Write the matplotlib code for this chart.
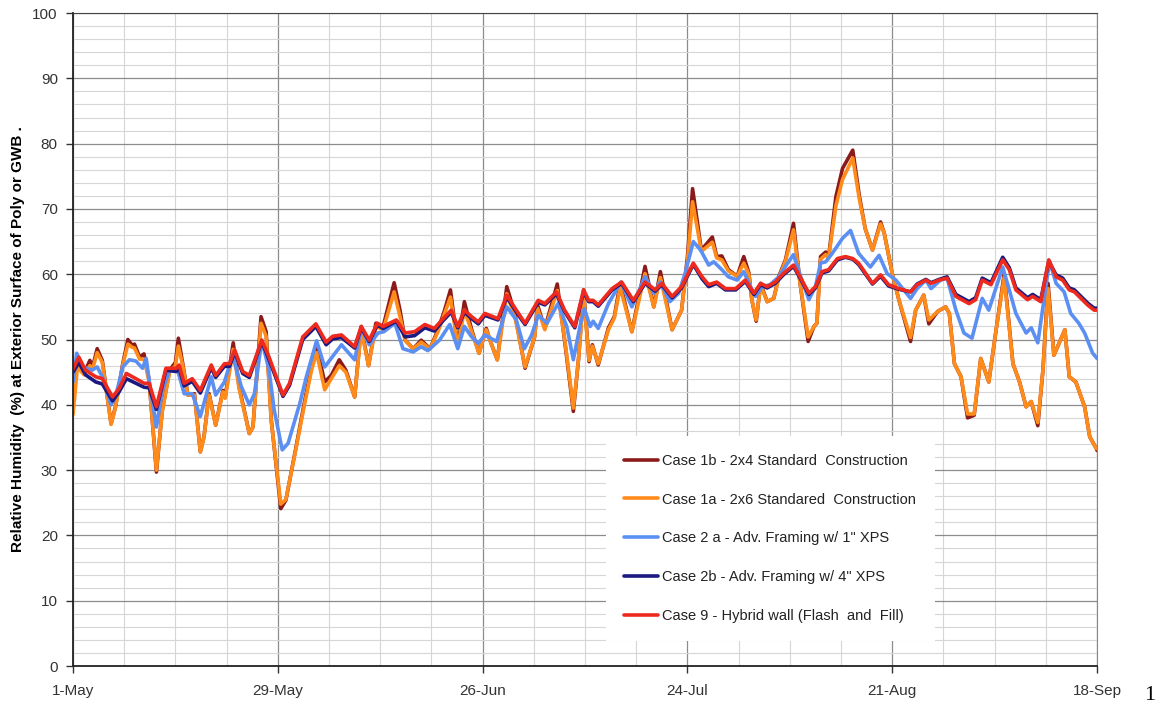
import datetime as dt
import numpy as np
import matplotlib
matplotlib.use('Agg')
import matplotlib.pyplot as plt

plt.rcParams['font.family'] = ['Liberation Sans', 'DejaVu Sans']

START = dt.date(2000, 5, 1)

# days after 1-May, shared by the two standard-construction cases
days_case1 = [0, 0.6, 1.5, 2.3, 2.7, 3.3, 4.0, 5.2, 5.8, 6.8, 7.5, 8.1, 8.4, 9.1, 9.7,
              10.4, 11.4, 12.2, 13.2, 14.0, 14.4, 15.0, 15.7, 16.6, 17.4, 17.9, 18.6,
              19.5, 20.5, 20.8, 21.9, 22.7, 24.1, 24.6, 25.7, 26.4, 27.1, 28.4, 29.1,
              30.5, 31.6, 32.6, 33.3, 34.4, 35.3, 36.4, 37.3, 38.5, 39.4, 40.4, 41.4,
              42.4, 43.9, 44.7, 45.4, 46.5, 47.6, 48.8, 49.9, 50.8, 51.6, 52.6, 53.5,
              54.5, 55.5, 56.5, 57.0, 58.0, 59.3, 60.4, 61.8, 63.1, 63.5, 64.5, 66.2,
              67.2, 68.4, 69.1, 69.8, 70.55, 71.0, 71.8, 73.2, 74.0, 74.8, 76.4, 78.2,
              79.4, 80.3, 81.9, 83.2, 84.0, 84.7, 85.9, 87.4, 88.0, 88.7, 89.6, 90.8,
              91.7, 92.4, 92.8, 93.4, 94.0, 94.9, 95.8, 96.5, 97.4, 98.5, 99.4, 100.5,
              101.3, 101.7, 102.2, 102.9, 103.3, 104.3, 105.2, 106.6, 107.5, 108.3,
              109.3, 110.4, 110.9, 112.0, 112.9, 114.5, 115.2, 116.3, 117.0, 118.2,
              119.3, 119.8, 120.5, 121.4, 122.3, 123.2, 124.1, 125.2, 126.2, 127.3,
              128.5, 129.4, 130.3, 131.0, 131.9, 132.6, 133.3, 134.1, 135.6, 136.2,
              137.1, 138.3, 139.0, 139.9, 140.0]
rh_case1b = [44.0, 45.8, 44.8, 46.8, 45.9, 48.6, 46.8, 37.1, 39.7, 46.3, 50.0, 49.1, 49.3,
             47.3, 47.8, 43.8, 29.7, 39.2, 45.3, 46.5, 50.2, 46.3, 41.5, 41.7, 32.8, 35.1,
             41.7, 36.9, 42.2, 41.2, 49.5, 42.8, 35.6, 36.6, 53.5, 51.2, 37.7, 24.1, 25.4,
             33.6, 40.2, 45.8, 48.9, 43.5, 44.5, 46.9, 45.3, 41.2, 52.0, 46.0, 52.5, 52.0,
             58.7, 54.5, 49.9, 48.6, 49.9, 48.6, 51.5, 54.5, 57.6, 48.9, 55.8, 51.5, 47.9,
             51.7, 49.9, 46.9, 58.1, 54.0, 45.6, 50.4, 55.3, 51.7, 58.5, 49.9, 39.0, 46.9,
             57.6, 46.6, 49.2, 46.1, 51.8, 53.5, 58.6, 51.2, 61.2, 55.0, 60.4, 51.5, 54.5,
             62.7, 73.1, 63.7, 65.7, 62.7, 62.8, 60.7, 59.7, 62.7, 60.2, 56.1, 52.8, 58.6,
             55.8, 56.3, 59.7, 62.2, 67.8, 58.6, 49.7, 52.0, 52.5, 62.7, 63.4, 62.7, 71.9,
             76.2, 79.0, 72.0, 67.0, 63.7, 68.0, 66.3, 60.1, 56.1, 49.7, 54.5, 56.8, 52.4,
             54.3, 55.0, 54.0, 46.3, 44.3, 38.0, 38.4, 47.1, 43.5, 51.5, 60.0, 46.3, 43.5,
             39.7, 40.5, 36.8, 45.3, 58.6, 47.6, 51.5, 44.3, 43.5, 39.7, 35.1, 33.3, 33.0]
rh_case1a = [38.5, 45.8, 44.6, 46.0, 45.6, 48.0, 46.5, 37.0, 39.6, 46.1, 49.3, 48.8, 48.7,
             47.0, 47.0, 43.6, 30.0, 39.0, 45.0, 46.0, 49.0, 46.0, 41.5, 41.5, 32.8, 35.0,
             41.5, 36.9, 42.0, 41.0, 48.5, 42.5, 35.6, 36.6, 52.5, 50.5, 37.5, 24.8, 25.5,
             33.4, 39.8, 45.3, 48.0, 42.3, 44.0, 46.0, 45.0, 41.2, 51.5, 46.0, 52.0, 51.5,
             57.3, 53.5, 49.9, 48.6, 49.6, 48.6, 51.2, 54.0, 56.5, 48.9, 54.5, 51.2, 47.9,
             51.5, 49.9, 46.9, 57.0, 53.5, 45.8, 50.4, 54.8, 51.5, 57.5, 50.2, 39.5, 46.9,
             56.8, 46.8, 49.0, 46.3, 51.5, 53.3, 58.0, 51.2, 60.1, 55.0, 59.5, 51.5, 54.5,
             62.0, 71.1, 63.5, 64.9, 62.5, 62.2, 60.5, 59.7, 61.7, 60.0, 56.1, 53.0, 58.3,
             55.8, 56.3, 59.5, 62.0, 66.8, 58.6, 50.4, 52.0, 52.5, 62.3, 63.0, 62.5, 70.5,
             74.5, 77.8, 71.5, 67.0, 63.7, 67.7, 66.3, 60.1, 56.1, 50.3, 54.5, 56.8, 53.0,
             54.3, 55.0, 54.0, 46.3, 44.3, 38.6, 38.6, 47.1, 43.5, 51.5, 59.5, 46.3, 43.5,
             39.7, 40.5, 37.3, 45.3, 57.8, 47.6, 51.5, 44.3, 43.5, 39.7, 35.1, 33.3, 33.3]

days_case2a = [0, 0.5, 1.3, 2.6, 3.3, 4.0, 5.2, 5.8, 6.8, 7.7, 8.6, 9.5, 10.0, 10.6, 11.4,
               12.2, 13.2, 14.3, 15.2, 16.3, 17.4, 18.9, 19.5, 20.7, 21.8, 23.0, 24.1,
               24.8, 25.8, 26.8, 27.5, 28.6, 29.4, 31.0, 31.9, 33.3, 34.4, 36.7, 38.5,
               39.4, 40.5, 41.7, 42.5, 44.0, 45.1, 46.5, 47.6, 48.5, 50.1, 51.5, 52.6,
               53.5, 54.5, 55.4, 56.3, 57.9, 59.3, 60.6, 61.7, 62.7, 63.6, 64.8, 66.3,
               67.5, 68.4, 69.3, 69.9, 70.7, 71.1, 71.8, 73.2, 74.9, 76.4, 78.2, 79.4,
               80.3, 81.6, 82.8, 83.7, 84.8, 85.8, 86.9, 87.6, 88.7, 89.6, 90.8, 91.7,
               92.6, 93.3, 94.2, 95.3, 96.5, 97.4, 98.5, 99.4, 100.6, 101.5, 102.2, 102.9,
               103.8, 105.2, 106.3, 107.4, 109.0, 110.2, 111.3, 112.5, 114.5, 115.4,
               116.6, 117.3, 118.6, 119.5, 120.7, 121.8, 122.9, 124.3, 125.2, 127.1,
               128.0, 128.9, 130.3, 131.0, 131.9, 133.5, 134.4, 135.5, 136.4, 137.5,
               138.3, 139.4, 140.0]
rh_case2a = [43.5, 47.9, 45.8, 45.3, 45.8, 44.3, 40.0, 41.2, 45.8, 46.9, 46.7, 45.6, 47.1,
             42.2, 36.6, 42.2, 45.3, 45.3, 41.7, 41.7, 38.2, 44.3, 41.5, 43.5, 47.6, 42.8,
             40.0, 41.7, 49.9, 45.3, 39.2, 33.1, 34.1, 40.2, 44.3, 49.8, 45.8, 49.2, 46.9,
             51.7, 49.2, 51.0, 51.2, 52.5, 48.6, 48.1, 48.9, 48.3, 49.9, 52.3, 48.6, 52.0,
             50.4, 49.4, 50.7, 49.7, 55.0, 53.0, 48.6, 50.7, 53.7, 52.5, 55.5, 52.0, 46.9,
             52.0, 54.7, 52.0, 52.8, 51.7, 55.5, 58.8, 55.0, 59.6, 57.1, 58.8, 55.8, 57.1,
             60.2, 65.0, 63.7, 61.4, 61.9, 60.7, 59.6, 59.1, 60.4, 58.1, 56.6, 58.1, 58.4,
             59.6, 61.2, 63.0, 59.9, 56.1, 58.1, 61.7, 61.9, 63.2, 65.5, 66.7, 63.2, 61.1,
             62.9, 60.1, 59.1, 56.3, 57.8, 59.1, 57.8, 59.1, 59.4, 54.5, 51.0, 50.2, 56.3,
             54.5, 61.1, 57.6, 54.0, 51.0, 51.8, 49.5, 62.0, 58.6, 57.3, 54.0, 52.5, 51.0,
             47.9, 47.1]

# days after 1-May, shared by case 2b and case 9
days_case2b9 = [0, 0.8, 1.7, 3.1, 4.0, 5.4, 6.3, 7.3, 8.6, 9.7, 10.4, 11.4, 12.7, 14.1,
                14.5, 15.2, 16.3, 17.4, 18.9, 19.5, 20.7, 21.4, 22.1, 23.2, 24.1, 25.8,
                26.8, 28.7, 29.6, 31.4, 33.2, 34.6, 35.5, 36.7, 38.5, 39.4, 40.5, 41.6,
                42.4, 44.2, 45.4, 46.7, 48.1, 49.4, 50.6, 51.7, 52.6, 53.5, 54.5, 55.4,
                56.3, 58.1, 59.3, 60.6, 61.8, 63.6, 64.5, 66.1, 67.2, 68.6, 69.8, 70.5,
                71.1, 71.8, 73.7, 75.0, 76.6, 78.2, 79.6, 80.5, 81.9, 83.2, 84.8, 86.0,
                86.9, 88.0, 89.2, 90.6, 91.9, 93.1, 94.0, 94.9, 96.0, 97.2, 98.5, 99.4,
                100.6, 101.5, 102.4, 103.3, 104.5, 105.6, 106.6, 107.4, 109.3, 110.4,
                111.5, 112.9, 114.5, 115.4, 116.6, 117.3, 118.4, 119.5, 120.7, 122.5,
                123.4, 124.3, 125.5, 127.1, 128.0, 128.9, 130.5, 131.2, 132.3, 133.4,
                134.4, 135.3, 136.2, 136.9, 137.8, 138.7, 139.6, 140.0]
rh_case9 = [45.5, 47.3, 45.3, 44.3, 44.0, 41.2, 42.5, 44.8, 44.0, 43.3, 43.3, 39.7, 45.6,
            45.6, 46.1, 43.3, 44.0, 42.2, 46.1, 44.5, 46.3, 46.3, 48.4, 45.1, 44.5, 49.9,
            47.3, 41.5, 43.3, 50.4, 52.4, 49.6, 50.5, 50.7, 48.9, 52.0, 49.9, 52.5, 52.0,
            53.0, 51.0, 51.2, 52.3, 51.7, 53.2, 54.5, 52.0, 54.5, 53.5, 52.7, 54.0, 53.2,
            56.8, 54.5, 52.5, 56.0, 55.5, 57.3, 54.5, 52.0, 57.6, 56.0, 56.0, 55.3, 57.8,
            58.8, 56.0, 58.8, 57.6, 58.6, 56.6, 58.1, 61.7, 59.6, 58.4, 58.8, 57.8, 57.8,
            59.1, 57.1, 58.6, 58.1, 58.8, 60.2, 61.4, 59.6, 57.1, 58.1, 60.4, 60.7, 62.4,
            62.7, 62.4, 61.7, 58.6, 59.9, 58.4, 57.8, 57.3, 58.4, 59.1, 58.6, 59.1, 59.4,
            56.6, 55.5, 56.1, 59.1, 58.4, 62.2, 60.7, 57.6, 56.1, 56.6, 55.8, 62.2, 59.6,
            59.1, 57.6, 57.3, 56.3, 55.3, 54.5, 54.5]
rh_case2b = [45.0, 46.5, 44.6, 43.5, 43.2, 40.6, 42.0, 44.0, 43.3, 42.7, 42.6, 39.3, 45.3,
             45.1, 45.6, 42.9, 43.6, 41.8, 45.7, 44.2, 45.9, 45.9, 48.1, 44.8, 44.2, 49.7,
             46.9, 41.3, 43.0, 50.0, 52.0, 49.2, 50.1, 50.3, 48.7, 51.8, 49.7, 52.2, 51.7,
             52.8, 50.4, 50.6, 51.8, 51.3, 52.9, 54.2, 51.8, 54.2, 53.2, 52.4, 53.7, 53.0,
             56.5, 54.2, 52.3, 55.7, 55.3, 57.0, 54.3, 51.8, 57.3, 55.8, 55.8, 55.1, 57.6,
             58.6, 55.8, 58.6, 57.4, 58.4, 56.4, 57.9, 61.5, 59.3, 58.1, 58.6, 57.6, 57.6,
             58.9, 56.9, 58.4, 57.9, 58.6, 60.0, 61.2, 59.4, 56.9, 57.9, 60.2, 60.5, 62.2,
             62.6, 62.3, 61.5, 58.5, 59.7, 58.2, 57.7, 57.3, 58.5, 59.2, 58.7, 59.2, 59.6,
             56.9, 55.8, 56.4, 59.4, 58.7, 62.6, 61.0, 57.9, 56.4, 56.9, 56.1, 62.0, 59.9,
             59.4, 57.9, 57.6, 56.6, 55.6, 54.8, 54.8]

series = [
    ('Case 1b - 2x4 Standard  Construction', days_case1, rh_case1b, '#8b1a1a'),
    ('Case 1a - 2x6 Standared  Construction', days_case1, rh_case1a, '#ff8c1a'),
    ('Case 2 a - Adv. Framing w/ 1" XPS', days_case2a, rh_case2a, '#5b8ff2'),
    ('Case 2b - Adv. Framing w/ 4" XPS', days_case2b9, rh_case2b, '#1a1a80'),
    ('Case 9 - Hybrid wall (Flash  and  Fill)', days_case2b9, rh_case9, '#ee2a1e'),
]

tick_days = np.arange(0, 141, 28)
tick_labels = [(START + dt.timedelta(days=int(d))).strftime('%-d-%b') for d in tick_days]

fig = plt.figure(figsize=(11.63, 7.08), dpi=100)
ax = fig.add_axes([0.0628, 0.0593, 0.8805, 0.9223])

for label, d, v, col in series:
    ax.plot(d, v, color=col, lw=2.6, label=label,
            solid_joinstyle='round', solid_capstyle='round')

ax.set_xlim(0, 140)
ax.set_ylim(0, 100)
ax.set_xticks(tick_days)
ax.set_xticklabels(tick_labels)
ax.set_xticks(np.arange(0, 141, 7), minor=True)
ax.set_yticks(np.arange(0, 101, 10))
ax.set_yticks(np.arange(0, 101, 2), minor=True)
ax.grid(which='minor', color='#d6d6d6', lw=0.8)
ax.grid(which='major', color='#8c8c8c', lw=0.9)
ax.set_axisbelow(True)
ax.tick_params(which='major', direction='out', length=5, width=1, colors='#333333',
               labelsize=11, pad=8)
ax.tick_params(axis='y', which='major', pad=6)
ax.tick_params(which='minor', length=0)
for s in ('left', 'bottom'):
    ax.spines[s].set_color('#222222')
    ax.spines[s].set_linewidth(1.3)
ax.spines['top'].set_color('#444444')
ax.spines['right'].set_color('#888888')

ax.set_ylabel('Relative Humidity  (%) at Exterior Surface of Poly or GWB .',
              fontsize=11, fontweight='bold', labelpad=5)

leg = ax.legend(loc='upper left', bbox_to_anchor=(0.52, 0.353), fontsize=10.5,
                frameon=True, facecolor='white', edgecolor='none', framealpha=1,
                fancybox=False, handlelength=2.35, handletextpad=0.3,
                labelspacing=1.7, borderpad=1.25, borderaxespad=0)
for t in leg.get_texts():
    t.set_color('#222222')

fig.text(0.9885, 0.012, '1', fontsize=16, family='Liberation Serif', ha='center')

fig.savefig('out.png', dpi=100)
